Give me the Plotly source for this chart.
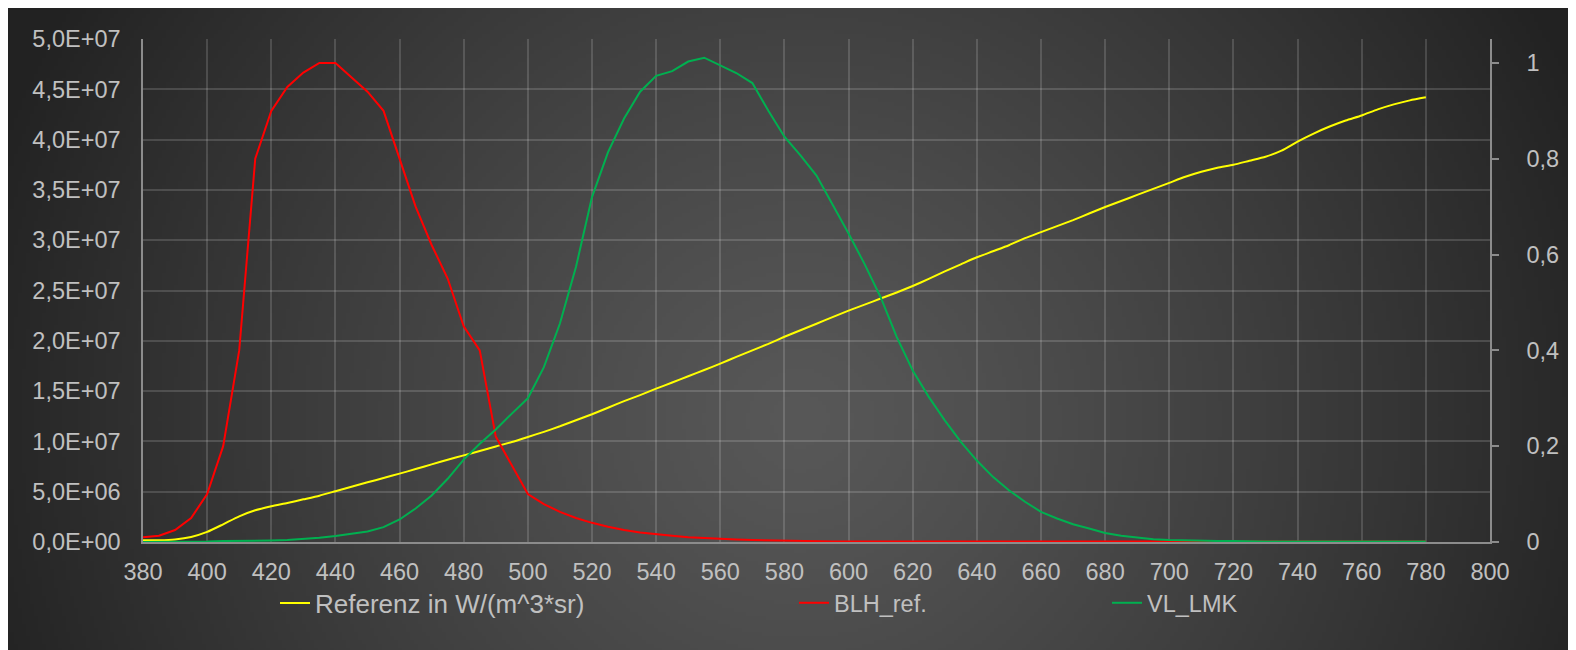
import base64
import struct
import zlib

import numpy as np
import plotly.graph_objects as go

# ---------------- data ----------------
wavelength = list(range(380, 785, 5))

referenz = [
    1.7e5, 1.8e5, 2.6e5, 5.0e5, 1.0e6, 1.76e6, 2.55e6, 3.15e6, 3.55e6, 3.88e6,
    4.24e6, 4.6e6, 5.05e6, 5.5e6, 5.93e6, 6.36e6, 6.8e6, 7.25e6, 7.72e6, 8.18e6,
    8.61e6, 9.05e6, 9.5e6, 9.94e6, 1.044e7, 1.095e7, 1.15e7, 1.21e7, 1.27e7, 1.335e7,
    1.40e7, 1.46e7, 1.524e7, 1.585e7, 1.648e7, 1.71e7, 1.773e7, 1.84e7, 1.905e7, 1.97e7,
    2.04e7, 2.105e7, 2.17e7, 2.235e7, 2.30e7, 2.36e7, 2.42e7, 2.48e7, 2.545e7, 2.615e7,
    2.69e7, 2.76e7, 2.83e7, 2.89e7, 2.95e7, 3.02e7, 3.08e7, 3.14e7, 3.20e7, 3.265e7,
    3.33e7, 3.39e7, 3.45e7, 3.51e7, 3.57e7, 3.63e7, 3.68e7, 3.72e7, 3.75e7, 3.79e7,
    3.83e7, 3.89e7, 3.98e7, 4.06e7, 4.13e7, 4.19e7, 4.24e7, 4.30e7, 4.35e7, 4.39e7,
    4.42e7,
]

blh_ref = [
    0.010, 0.013, 0.025, 0.050, 0.100, 0.200, 0.400, 0.800, 0.900, 0.950,
    0.980, 1.000, 1.000, 0.970, 0.940, 0.900, 0.800, 0.700, 0.620, 0.550,
    0.450, 0.400, 0.220, 0.160, 0.100, 0.079, 0.063, 0.050, 0.040, 0.032,
    0.025, 0.020, 0.016, 0.013, 0.010, 0.008, 0.0063, 0.005, 0.004, 0.0032,
    0.0025, 0.002, 0.0016, 0.0013, 0.001, 0.001, 0.001, 0.001, 0.001, 0.001,
    0.001, 0.001, 0.001, 0.001, 0.001, 0.001, 0.001, 0.001, 0.001, 0.001,
    0.001, 0.001, 0.001, 0.001, 0.001, 0.001, 0.001, 0.001, 0.001, 0.001,
    0.001, 0.001, 0.001, 0.001, 0.001, 0.001, 0.001, 0.001, 0.001, 0.001,
    0.001,
]

vl_lmk = [
    0.000, 0.000, 0.001, 0.001, 0.001, 0.002, 0.002, 0.003, 0.003, 0.004,
    0.006, 0.009, 0.0125, 0.017, 0.022, 0.031, 0.047, 0.070, 0.097, 0.132,
    0.172, 0.205, 0.235, 0.268, 0.300, 0.365, 0.456, 0.574, 0.720, 0.814,
    0.884, 0.940, 0.973, 0.983, 1.003, 1.011, 0.995, 0.979, 0.958, 0.900,
    0.846, 0.807, 0.765, 0.706, 0.644, 0.580, 0.511, 0.428, 0.358, 0.303,
    0.254, 0.209, 0.170, 0.136, 0.108, 0.084, 0.063, 0.049, 0.037, 0.028,
    0.019, 0.013, 0.009, 0.006, 0.004, 0.003, 0.003, 0.002, 0.002, 0.001,
    0.001, 0.001, 0.001, 0.001, 0.001, 0.001, 0.001, 0.001, 0.001, 0.001,
    0.001,
]

left_tickvals = [0, 5e6, 1e7, 1.5e7, 2e7, 2.5e7, 3e7, 3.5e7, 4e7, 4.5e7, 5e7]
left_ticktext = ["0,0E+00", "5,0E+06", "1,0E+07", "1,5E+07", "2,0E+07", "2,5E+07",
                 "3,0E+07", "3,5E+07", "4,0E+07", "4,5E+07", "5,0E+07"]
right_tickvals = [0, 0.2, 0.4, 0.6, 0.8, 1.0]
right_ticktext = ["0", "0,2", "0,4", "0,6", "0,8", "1"]
x_tickvals = list(range(380, 820, 20))

# ---------------- layout geometry (figure coords; page adds 8px body margin) ----------------
W, H = 1576, 650
ML, MR, MT, MB = 135, 94, 31, 116
PW, PH = W - ML - MR, H - MT - MB


def make_bg_png():
    w, h = 394, 163
    xs = (np.arange(w) + 0.5) * W / w
    ys = (np.arange(h) + 0.5) * H / h
    X, Y = np.meshgrid(xs, ys)
    r = np.sqrt(((X - 792) / 780) ** 2 + ((Y - 412) / 750) ** 2)
    v = 88 - 48 * np.clip(r, 0, 1.3) ** 1.2
    v = np.clip(v, 34, 90).astype(np.uint8)
    raw = b"".join(b"\x00" + row.tobytes() for row in v)

    def chunk(tag, data):
        c = struct.pack(">I", len(data)) + tag + data
        return c + struct.pack(">I", zlib.crc32(tag + data) & 0xFFFFFFFF)

    png = b"\x89PNG\r\n\x1a\n"
    png += chunk(b"IHDR", struct.pack(">IIBBBBB", w, h, 8, 0, 0, 0, 0))
    png += chunk(b"IDAT", zlib.compress(raw, 9))
    png += chunk(b"IEND", b"")
    return "data:image/png;base64," + base64.b64encode(png).decode()


FONT = "Liberation Sans, Arial, sans-serif"
TXT = "#c0c0c0"
GRID = "rgba(255,255,255,0.15)"
AXL = "#8c8c8c"
TICK_SIZE = 23.5

fig = go.Figure()
fig.add_trace(go.Scatter(x=wavelength, y=referenz, name="Referenz in W/(m^3*sr)",
                         mode="lines", line=dict(color="#ffff00", width=2, shape="spline", smoothing=0.6),
                         legend="legend"))
fig.add_trace(go.Scatter(x=wavelength, y=blh_ref, name="BLH_ref.", yaxis="y2",
                         mode="lines", line=dict(color="#ff0000", width=2),
                         legend="legend2"))
fig.add_trace(go.Scatter(x=wavelength, y=vl_lmk, name="VL_LMK", yaxis="y2",
                         mode="lines", line=dict(color="#00b050", width=2),
                         legend="legend3"))

leg_common = dict(xref="container", yref="container", y=1 - 595 / H, yanchor="middle",
                  xanchor="left", bgcolor="rgba(0,0,0,0)", borderwidth=0)

fig.update_layout(
    width=W, height=H,
    margin=dict(l=ML, r=MR, t=MT, b=MB, autoexpand=False),
    paper_bgcolor="#2a2a2a",
    plot_bgcolor="rgba(0,0,0,0)",
    font=dict(family=FONT, size=TICK_SIZE, color=TXT),
    showlegend=True,
    legend=dict(x=267 / W, font=dict(family=FONT, size=26, color=TXT), **leg_common),
    legend2=dict(x=786 / W, font=dict(family=FONT, size=23.5, color=TXT), **leg_common),
    legend3=dict(x=1099 / W, font=dict(family=FONT, size=23.5, color=TXT), **leg_common),
    xaxis=dict(range=[380, 800], tickvals=x_tickvals, showgrid=True, gridcolor=GRID, gridwidth=1.5,
               showline=True, linecolor=AXL, linewidth=1.5, ticks="", zeroline=False,
               ticklabelstandoff=8, automargin=False,
               tickfont=dict(family=FONT, size=TICK_SIZE, color=TXT)),
    yaxis=dict(range=[0, 5e7], tickvals=left_tickvals, ticktext=left_ticktext, showgrid=True,
               gridcolor=GRID, gridwidth=1.5, showline=True, linecolor=AXL, linewidth=1.5,
               ticks="", zeroline=False, ticklabelstandoff=16, automargin=False,
               tickfont=dict(family=FONT, size=TICK_SIZE, color=TXT)),
    yaxis2=dict(range=[0, 1.05], tickvals=right_tickvals, ticktext=right_ticktext, overlaying="y",
                side="right", showgrid=False, showline=True, linecolor=AXL, linewidth=1.5,
                ticks="outside", ticklen=7, tickwidth=1.5, tickcolor=AXL, zeroline=False,
                ticklabelstandoff=23, automargin=False,
                tickfont=dict(family=FONT, size=TICK_SIZE, color=TXT)),
    images=[dict(source=make_bg_png(), xref="paper", yref="paper",
                 x=-ML / PW, y=(H - MB) / PH,
                 sizex=W / PW, sizey=H / PH,
                 xanchor="left", yanchor="top", sizing="stretch", layer="below")],
)

fig.write_html("out.html")
